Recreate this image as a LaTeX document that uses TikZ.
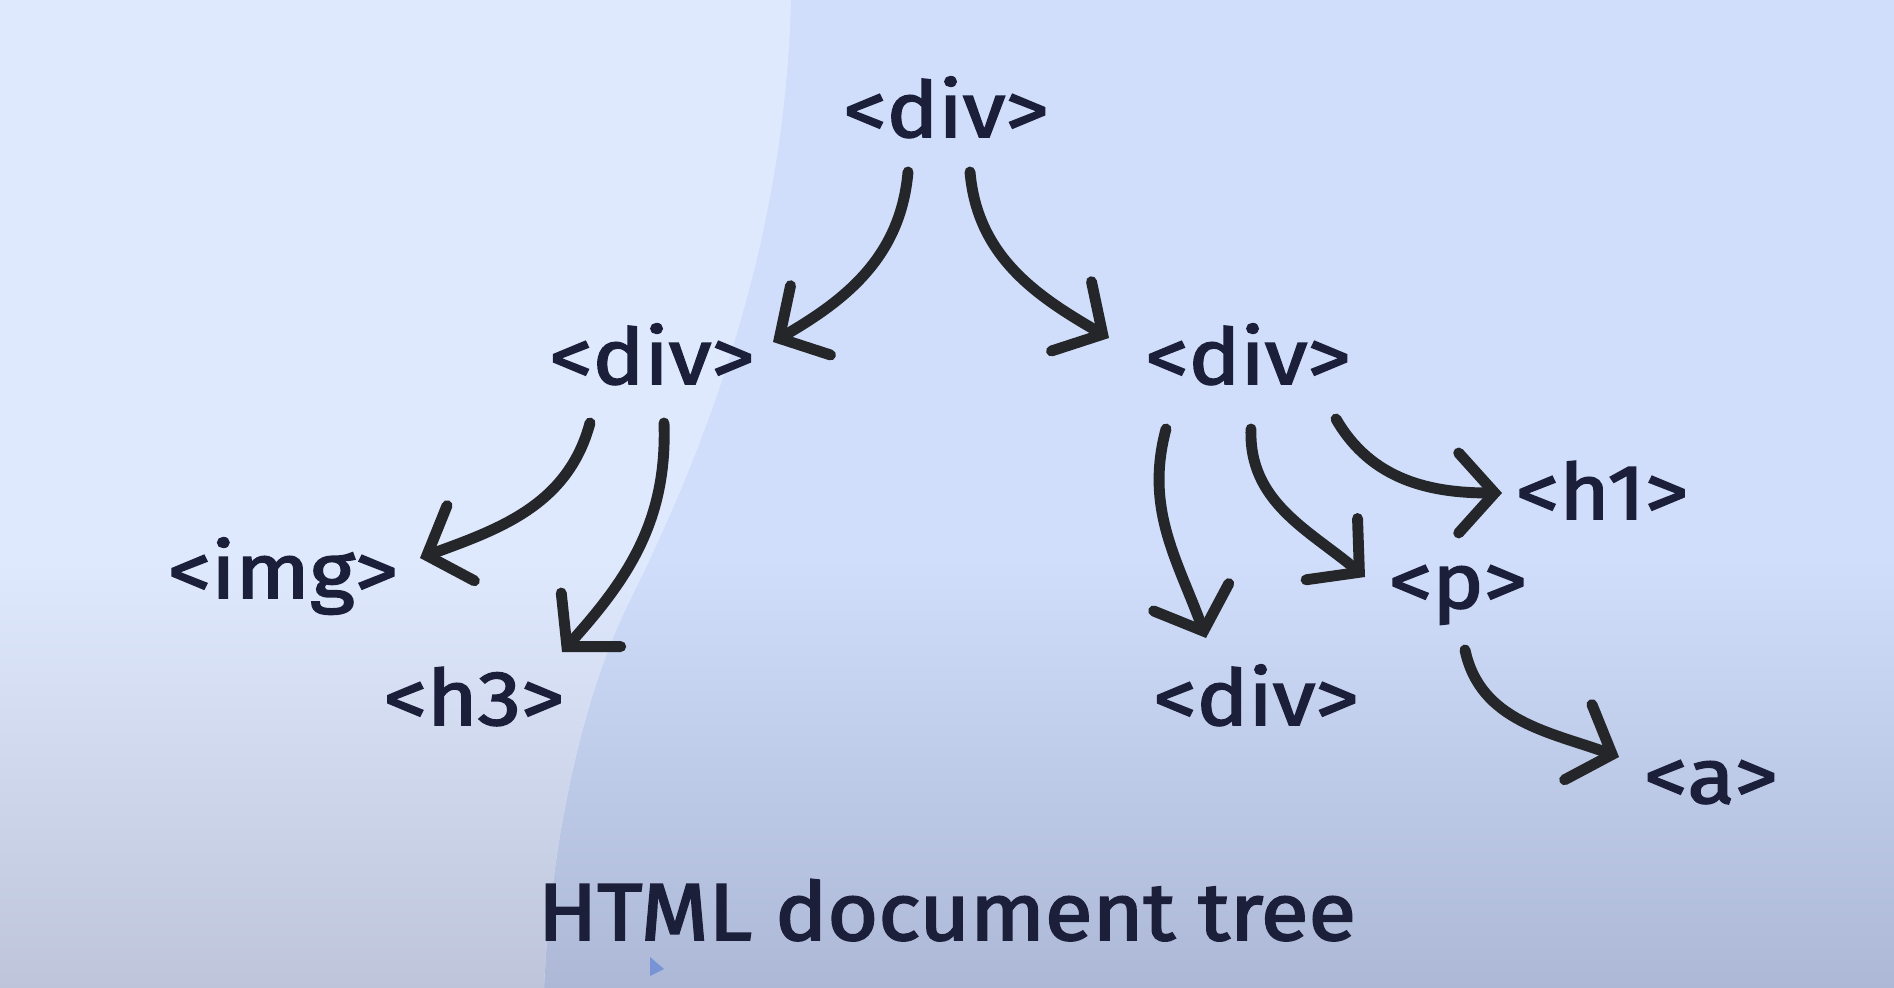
\documentclass[tikz,border=0pt]{standalone}
\usepackage{fontspec}
\setmainfont{Fira Sans}
\newfontfamily\tagfont{Fira Sans}[FakeBold=2.2,FakeStretch=1.12]
\newfontfamily\captionfont{Fira Sans}[FakeBold=2.4,FakeStretch=1.08]
\usetikzlibrary{positioning,arrows.meta}
\definecolor{paleleft}{RGB}{223,233,253}
\definecolor{paleright}{RGB}{208,222,251}
\definecolor{dimleft}{RGB}{190,197,219}
\definecolor{dimright}{RGB}{172,184,213}
\definecolor{tagink}{RGB}{28,31,58}
\definecolor{arrowink}{RGB}{36,38,41}
\definecolor{pointer}{RGB}{120,148,215}
\tikzset{
  tag/.style={anchor=base,inner sep=0pt,text=tagink,font=\tagfont\fontsize{22}{26}\selectfont},
  caption/.style={anchor=base,inner sep=0pt,text=tagink,font=\captionfont\fontsize{23}{28}\selectfont},
  branch/.style={draw=arrowink,line width=3.1pt,line cap=round,-{Straight Barb[length=3.6mm,width=8mm,line cap=round]}}
}
\begin{document}
\begin{tikzpicture}
  \useasboundingbox (0,0) rectangle (18.94,-9.88);
  % background
  \fill[paleright] (0,0) rectangle (18.94,-9.88);
  \shade[top color=paleright,bottom color=dimright] (0,-5.6) rectangle (18.94,-9.88);
  \begin{scope}
    \clip (0,0) -- (7.91,0) .. controls (7.85,-2.5) and (7.0,-4.6) .. (6.3,-6.0) .. controls (5.8,-7.0) and (5.5,-8.5) .. (5.44,-9.88) -- (0,-9.88) -- cycle;
    \fill[paleleft] (0,0) rectangle (18.94,-9.88);
    \shade[top color=paleleft,bottom color=dimleft] (0,-5.6) rectangle (18.94,-9.88);
  \end{scope}
  % tags
  \node[tag] (root) at (9.46,-1.37) {<div>};
  \node[tag] (ldiv) at (6.52,-3.84) {<div>};
  \node[tag] (rdiv) at (12.48,-3.84) {<div>};
  \node[tag] (img) at (2.83,-5.98) {<img>};
  \node[tag] (hthree) at (4.74,-7.25) {<h3>};
  \node[tag] (bdiv) at (12.56,-7.25) {<div>};
  \node[tag] (para) at (14.58,-6.08) {<p>};
  \node[tag] (hone) at (16.02,-5.19) {<h1>};
  \node[tag] (atag) at (17.11,-8.03) {<a>};
  \node[caption] (title) at (9.47,-9.40) {HTML document tree};
  % branches
  \draw[branch] ([shift={(-0.38,-0.35)}]root.base) to[out=-95,in=30] ([shift={(1.21,0.42)}]ldiv.base);
  \draw[branch] ([shift={(0.24,-0.35)}]root.base) to[out=-85,in=150] ([shift={(-1.39,0.46)}]rdiv.base);
  \draw[branch] ([shift={(-0.62,-0.39)}]ldiv.base) to[out=-105,in=20] ([shift={(1.37,0.40)}]img.base);
  \draw[branch] ([shift={(0.12,-0.39)}]ldiv.base) to[out=-88,in=48] ([shift={(0.88,0.73)}]hthree.base);
  \draw[branch] ([shift={(-0.82,-0.45)}]rdiv.base) to[out=-105,in=110] ([shift={(-0.50,0.87)}]bdiv.base);
  \draw[branch] ([shift={(0.03,-0.45)}]rdiv.base) to[out=-92,in=140] ([shift={(-0.93,0.31)}]para.base);
  \draw[branch] ([shift={(0.88,-0.35)}]rdiv.base) to[out=-60,in=180] ([shift={(-1.00,0.26)}]hone.base);
  \draw[branch] ([shift={(0.07,-0.42)}]para.base) to[out=-78,in=160] ([shift={(-0.92,0.46)}]atag.base);
  % pointer
  \fill[pointer] (6.50,-9.57) -- (6.64,-9.69) -- (6.50,-9.76) -- cycle;
\end{tikzpicture}
\end{document}
